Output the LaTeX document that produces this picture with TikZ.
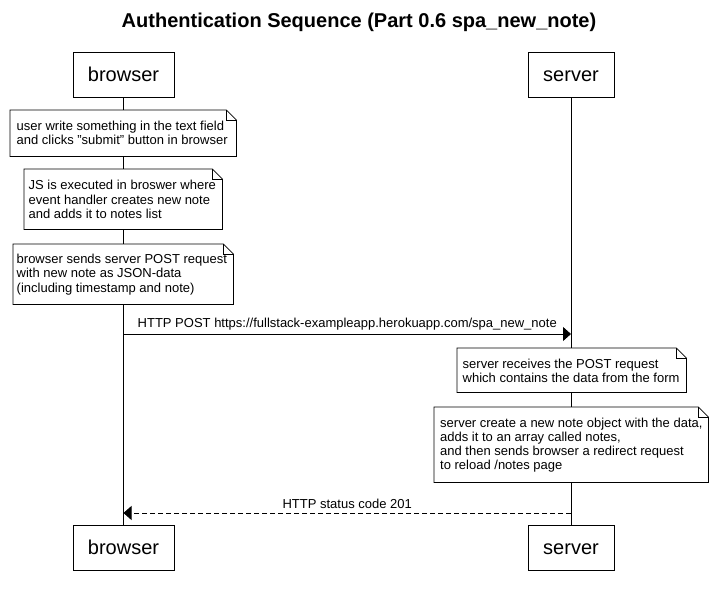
\documentclass[tikz,border=0pt]{standalone}
\usepackage{fontspec}
\setmainfont{Liberation Sans}
\usetikzlibrary{arrows.meta}
\tikzset{
  participant/.style={draw, line width=0.8pt, fill=white, inner sep=0pt,
    minimum height=45pt, text height=16.5pt, text depth=2.5pt, font=\fontsize{20}{24}\selectfont},
  notebox/.style={inner sep=0pt, align=left, anchor=north west},
  notetext/.style={font=\fontsize{13}{14.2}\selectfont, align=left, inner sep=0pt, anchor=west},
  noteline/.style={draw, line width=0.8pt, fill=white},
  lifeline/.style={line width=0.8pt},
  msg/.style={line width=0.8pt, -{Triangle[length=8pt,width=14pt]}},
  msglabel/.style={font=\fontsize{13}{15}\selectfont, inner sep=0pt},
}
\newcommand\drawnotefold[1]{%
  \path[noteline] (#1.north west) -- ([xshift=-10pt]#1.north east)
    -- ([yshift=-10pt]#1.north east) -- (#1.south east) -- (#1.south west) -- cycle;
  \draw[line width=0.8pt] ([xshift=-10pt]#1.north east) -- ([xshift=-10pt,yshift=-10pt]#1.north east)
    -- ([yshift=-10pt]#1.north east);
}
\begin{document}
\begin{tikzpicture}[x=1pt,y=-1pt]
\useasboundingbox (0,0) rectangle (718,594);
\fill[white] (0,0) rectangle (718,594);

\node[font=\bfseries\fontsize{20}{24}\selectfont] (title) at (359,22) {Authentication Sequence (Part 0.6 spa\_new\_note)};

\node[participant, minimum width=101pt] (bt) at (123.5,74.5) {browser};
\node[participant, minimum width=86pt] (st) at (571,74.5) {server};
\node[participant, minimum width=101pt] (bb) at (123.5,547.5) {browser};
\node[participant, minimum width=86pt] (sb) at (571,547.5) {server};

\draw[lifeline] (bt.south) -- (bb.north);
\draw[lifeline] (st.south) -- (sb.north);

% notes on browser side
\node[notebox, minimum width=226pt, minimum height=46pt] (n1) at (10,110) {};
\drawnotefold{n1}
\node[notetext] (t1) at (16.5,133)
  {user write something in the text field\\and clicks \char34submit\char34{} button in browser};

\node[notebox, minimum width=198pt, minimum height=60pt] (n2) at (24,169) {};
\drawnotefold{n2}
\node[notetext] (t2) at (28.5,199.5)
  {JS is executed in broswer where\\event handler creates new note\\and adds it to notes list};

\node[notebox, minimum width=220pt, minimum height=60pt] (n3) at (13,244) {};
\drawnotefold{n3}
\node[notetext] (t3) at (16.5,274.5)
  {browser sends server POST request\\with new note as JSON-data\\(including timestamp and note)};

% POST message
\coordinate (p1) at (bt.south |- 0,334);
\coordinate (p2) at (st.south |- 0,334);
\draw[msg] (p1) -- (p2) node[msglabel, midway, above=3.5pt] (l1) {HTTP POST https://fullstack-exampleapp.herokuapp.com/spa\_new\_note};

% notes on server side
\node[notebox, minimum width=229pt, minimum height=44pt] (n4) at (457,348) {};
\drawnotefold{n4}
\node[notetext] (t4) at (462.5,370.5)
  {server receives the POST request\\which contains the data from the form};

\node[notebox, minimum width=274pt, minimum height=75pt] (n5) at (434,407) {};
\drawnotefold{n5}
\node[notetext] (t5) at (440,445)
  {server create a new note object with the data,\\adds it to an array called notes,\\and then sends browser a redirect request\\to reload /notes page};

% return message
\coordinate (r1) at (st.south |- 0,513);
\coordinate (r2) at (bt.south |- 0,513);
\draw[msg, dash pattern=on 5pt off 3pt] (r1) -- (r2) node[msglabel, midway, above=4pt] (l2) {HTTP status code 201};
\end{tikzpicture}
\end{document}
